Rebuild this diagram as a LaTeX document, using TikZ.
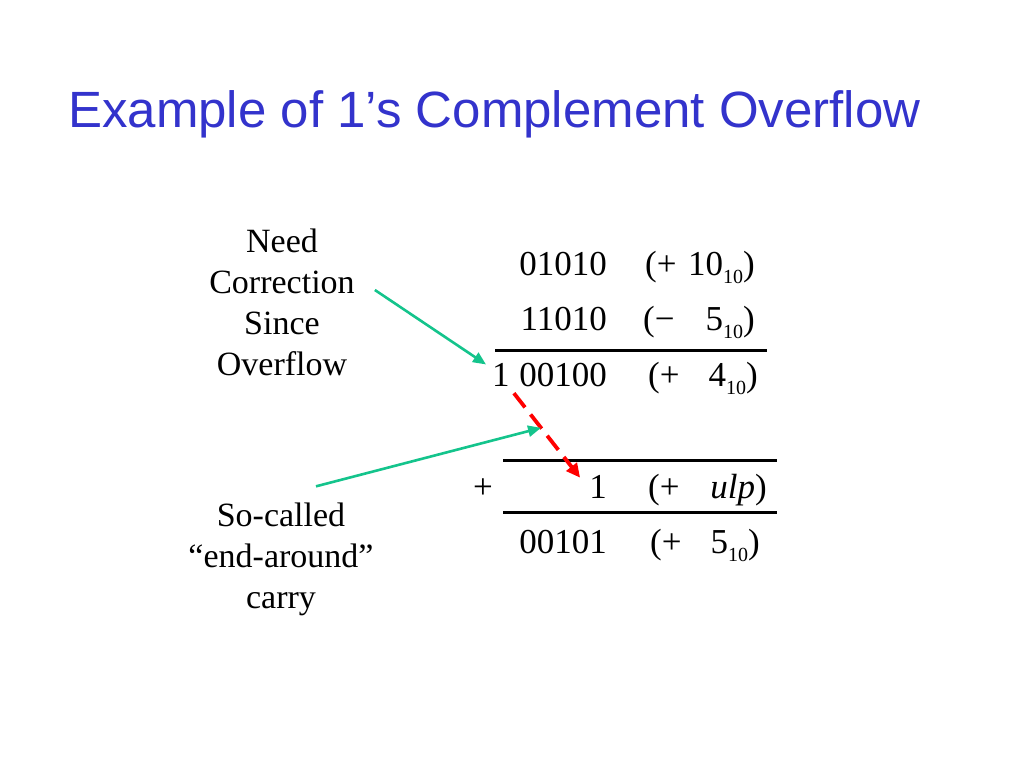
\documentclass[tikz,border=0pt]{standalone}
\usepackage{fontspec}
\setmainfont{Liberation Serif}
\newfontfamily\titlefont{Liberation Sans}
\usetikzlibrary{arrows.meta}
\definecolor{titleblue}{RGB}{51,51,204}
\definecolor{notegreen}{RGB}{20,196,140}
\newcommand\subten[1]{\raisebox{-8pt}{\fontsize{20}{20}\selectfont #1}}

\begin{document}
\begin{tikzpicture}[x=1pt,y=-1pt,
	num/.style={font=\fontsize{35}{42}\selectfont, inner sep=0},
	note/.style={font=\fontsize{34}{41}\selectfont, align=center, inner sep=0},
	rule/.style={line width=3pt},
	pointer/.style={draw=notegreen, line width=2.6pt, -{Triangle[length=13pt,width=11pt]}},
	carry/.style={draw=red, line width=3.8pt, dash pattern=on 18pt off 9pt, -{Triangle[length=14pt,width=13pt]}}]
\fill[white] (0,0) rectangle (1024,768);
\useasboundingbox (0,0) rectangle (1024,768);

\node[anchor=base west, inner sep=0, text=titleblue, font=\titlefont\fontsize{51}{60}\selectfont] (title) at (68,127) {Example of 1’s Complement Overflow};

\node[note] (need) at (282,302) {Need\\Correction\\Since\\Overflow};
\node[note] (called) at (281,559) {So-called\\“end-around”\\carry};

\foreach \y/\bin/\sign/\val/\open/\close [count=\k] in {
	275/01010/+/10\subten{10}/645/755,
	330/11010/−/5\subten{10}/643/755,
	386/00100/+/4\subten{10}/648/758,
	498/1/+/\textit{ulp}/648/767,
	553/00101/+/5\subten{10}/650/760}{
	\node[num, anchor=base east] (bin\k) at (607,\y) {\bin};
	\node[num, anchor=base west] (sign\k) at (\open,\y) {(\sign};
	\node[num, anchor=base east] (val\k) at (\close,\y) {\val)};
}
\node[num, anchor=base west] (cy) at (492,386) {1};
\node[num, anchor=base] (plus) at (483,498) {+};

\draw[rule] (495,350) -- (767,350);
\draw[rule] (503,460) -- (777,460);
\draw[rule] (503,512) -- (777,512);

\draw[carry] ([shift={(4,7)}]cy.south east) -- coordinate[pos=0.41] (mid) ([shift={(-9,3)}]bin4.north west);
\draw[pointer] ([shift={(20,-12)}]need.east) -- ([shift={(-6,-10)}]cy.west);
\draw[pointer] ([shift={(35,-16)}]called.north) -- (mid);

\end{tikzpicture}
\end{document}
